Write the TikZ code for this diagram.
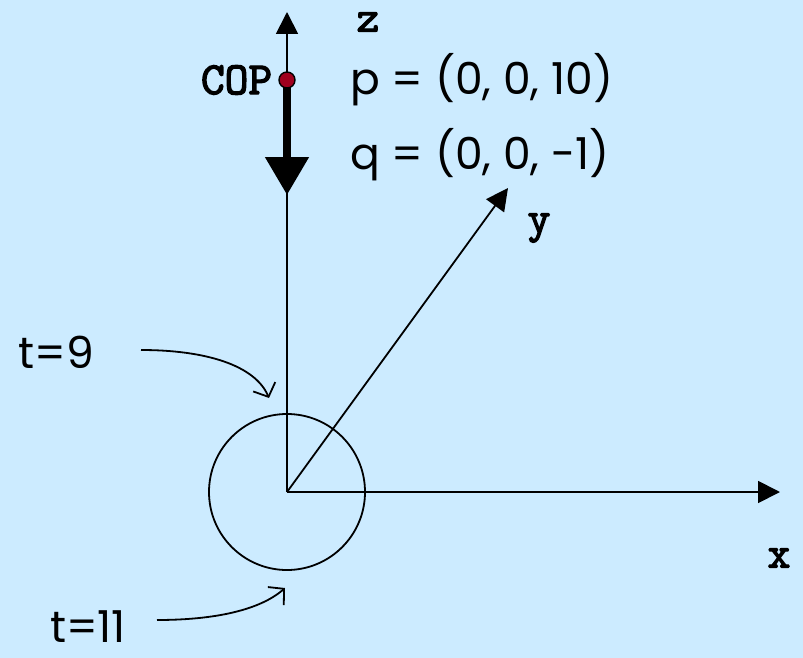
\documentclass[tikz,border=0pt]{standalone}
\usepackage{fontspec}
\setmainfont{Poppins}
\newfontfamily\axfont{Latin Modern Mono}[FakeBold=3]
\usepackage{tikz}
\usetikzlibrary{arrows.meta,positioning}
\definecolor{bgblue}{RGB}{204,235,255}
\definecolor{copred}{RGB}{160,0,30}

\begin{document}
\begin{tikzpicture}[
  x=1pt,y=-1pt,
  lbl/.style={font=\fontsize{44}{48}\selectfont,inner sep=0},
  axlbl/.style={font=\fontsize{44}{46}\selectfont\axfont,inner sep=0},
  axis/.style={-{Triangle[length=22pt,width=22pt]},line width=1.8pt},
  curv/.style={-{Straight Barb[length=11pt,width=24pt]},line width=1.8pt}
]
\fill[bgblue] (0,0) rectangle (803,658);
\useasboundingbox (0,0) rectangle (803,658);
\coordinate (o) at (287,492);
\coordinate (zend) at (287,12);
\coordinate (xend) at (780,492);
\coordinate (yend) at (508,188);
\coordinate (viewend) at (287,195);
\node[circle,draw,line width=1.8pt,minimum size=156pt,inner sep=0] (sphere) at (o) {};
\draw[axis] (o) -- (zend);
\draw[axis] (o) -- (xend);
\draw[axis] (o) -- (yend);
\draw[line width=8pt,-{Triangle[length=38pt,width=42pt]}] (287,84) -- (viewend);
\node[circle,fill=copred,draw,line width=1.4pt,inner sep=0,minimum size=16pt] (cop) at (287,80) {};
% labels
\node[axlbl] (zlbl) at (368,22) {z};
\node[axlbl] (ylbl) at (539,228) {y};
\node[axlbl] (xlbl) at (779,558) {x};
\node[axlbl,font=\fontsize{46}{48}\selectfont\axfont,left=6pt of cop] (coplbl) {COP};
\node[lbl,anchor=west] (plbl) at (350,80) {p = (0, 0, 10)};
\node[lbl,anchor=west] (qlbl) at (350,155) {q = (0, 0, -1)};
\node[lbl] (t9) at (56,352) {t=9};
\node[lbl] (t11) at (88,627) {t=11};
% pointers
\coordinate (t9a) at (141,350);
\coordinate (t9b) at (269,398);
\coordinate (t11a) at (157,620);
\coordinate (t11b) at (285,588);
\draw[curv] (t9a) .. controls (205,350) and (255,365) .. (t9b);
\draw[curv] (t11a) .. controls (215,620) and (260,610) .. (t11b);
\end{tikzpicture}
\end{document}
